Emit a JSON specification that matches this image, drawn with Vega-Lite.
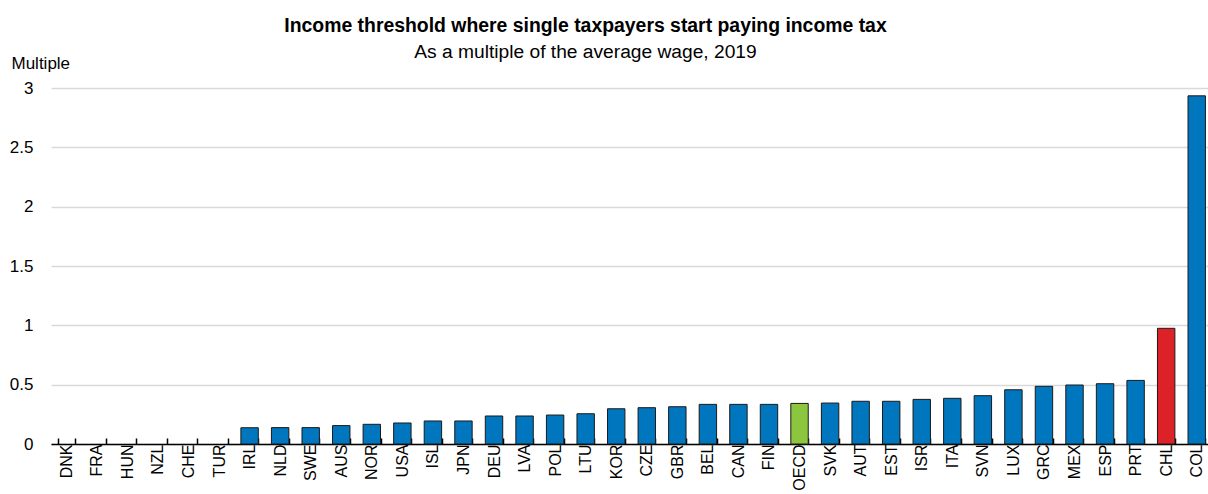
{
  "$schema": "https://vega.github.io/schema/vega-lite/v6.json",
  "autosize": {"type": "none"},
  "width": 1161,
  "height": 356,
  "padding": {"left": 51, "top": 88, "right": 0, "bottom": 50},
  "background": "white",
  "title": {
    "text": "Income threshold where single taxpayers start paying income tax",
    "subtitle": "As a multiple of the average wage, 2019",
    "frame": "group",
    "anchor": "middle",
    "dx": -46,
    "offset": -9,
    "font": "Liberation Sans",
    "fontSize": 19.4,
    "fontWeight": "bold",
    "color": "black",
    "subtitleFont": "Liberation Sans",
    "subtitleFontSize": 19.2,
    "subtitleColor": "black",
    "subtitlePadding": 6
  },
  "data": {
    "values": [
      {"country": "DNK", "value": 0, "group": "country"},
      {"country": "FRA", "value": 0, "group": "country"},
      {"country": "HUN", "value": 0, "group": "country"},
      {"country": "NZL", "value": 0, "group": "country"},
      {"country": "CHE", "value": 0, "group": "country"},
      {"country": "TUR", "value": 0, "group": "country"},
      {"country": "IRL", "value": 0.137, "group": "country"},
      {"country": "NLD", "value": 0.138, "group": "country"},
      {"country": "SWE", "value": 0.138, "group": "country"},
      {"country": "AUS", "value": 0.155, "group": "country"},
      {"country": "NOR", "value": 0.166, "group": "country"},
      {"country": "USA", "value": 0.177, "group": "country"},
      {"country": "ISL", "value": 0.194, "group": "country"},
      {"country": "JPN", "value": 0.194, "group": "country"},
      {"country": "DEU", "value": 0.236, "group": "country"},
      {"country": "LVA", "value": 0.236, "group": "country"},
      {"country": "POL", "value": 0.244, "group": "country"},
      {"country": "LTU", "value": 0.255, "group": "country"},
      {"country": "KOR", "value": 0.297, "group": "country"},
      {"country": "CZE", "value": 0.306, "group": "country"},
      {"country": "GBR", "value": 0.314, "group": "country"},
      {"country": "BEL", "value": 0.334, "group": "country"},
      {"country": "CAN", "value": 0.334, "group": "country"},
      {"country": "FIN", "value": 0.334, "group": "country"},
      {"country": "OECD", "value": 0.342, "group": "OECD"},
      {"country": "SVK", "value": 0.345, "group": "country"},
      {"country": "AUT", "value": 0.36, "group": "country"},
      {"country": "EST", "value": 0.36, "group": "country"},
      {"country": "ISR", "value": 0.376, "group": "country"},
      {"country": "ITA", "value": 0.385, "group": "country"},
      {"country": "SVN", "value": 0.407, "group": "country"},
      {"country": "LUX", "value": 0.457, "group": "country"},
      {"country": "GRC", "value": 0.486, "group": "country"},
      {"country": "MEX", "value": 0.497, "group": "country"},
      {"country": "ESP", "value": 0.508, "group": "country"},
      {"country": "PRT", "value": 0.536, "group": "country"},
      {"country": "CHL", "value": 0.975, "group": "CHL"},
      {"country": "COL", "value": 2.934, "group": "country"}
    ]
  },
  "mark": {"type": "bar", "stroke": "#1a1a1a", "strokeWidth": 1},
  "encoding": {
    "x": {
      "field": "country",
      "type": "nominal",
      "sort": null,
      "scale": {"paddingInner": 0.43, "paddingOuter": 0.215},
      "axis": {
        "title": null,
        "labelAngle": -90,
        "labelAlign": "right",
        "labelBaseline": "middle",
        "labelFont": "Liberation Sans",
        "labelFontSize": 16,
        "labelColor": "black",
        "labelPadding": 6,
        "tickBand": "extent",
        "tickSize": -6,
        "tickColor": "black",
        "tickWidth": 1.5,
        "domainColor": "black",
        "domainWidth": 1.5,
        "grid": false
      }
    },
    "y": {
      "field": "value",
      "type": "quantitative",
      "scale": {"domain": [0, 3], "nice": false},
      "axis": {
        "values": [0, 0.5, 1, 1.5, 2, 2.5, 3],
        "format": "~g",
        "title": "Multiple",
        "titleAngle": 0,
        "titleAlign": "left",
        "titleBaseline": "alphabetic",
        "titleX": -40,
        "titleY": -20,
        "titleFont": "Liberation Sans",
        "titleFontSize": 17,
        "titleFontWeight": "normal",
        "titleColor": "black",
        "labelFont": "Liberation Sans",
        "labelFontSize": 17,
        "labelColor": "black",
        "labelPadding": 18,
        "ticks": false,
        "domain": false,
        "grid": true,
        "gridColor": "#d9d9d9",
        "gridWidth": 1.5
      }
    },
    "color": {
      "field": "group",
      "type": "nominal",
      "scale": {"domain": ["country", "OECD", "CHL"], "range": ["#0076BE", "#8CC63F", "#DC2129"]},
      "legend": null
    },
    "strokeOpacity": {"condition": {"test": "datum.value == 0", "value": 0}, "value": 1}
  },
  "config": {"view": {"stroke": null}}
}
